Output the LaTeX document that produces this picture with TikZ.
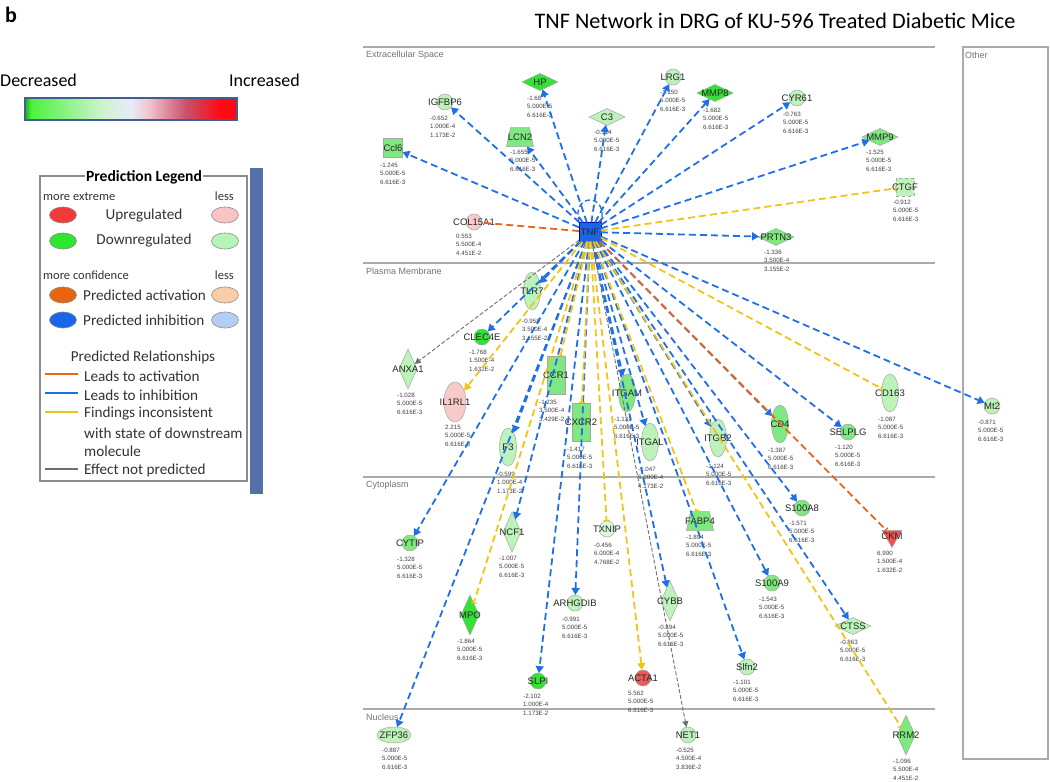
\documentclass[tikz,border=0pt]{standalone}
\usepackage{fontspec}
\setmainfont{Carlito}
\newfontfamily\netfont{Liberation Sans}
\usetikzlibrary{shapes.geometric,arrows.meta}
\definecolor{inhline}{HTML}{1F6FE8}
\definecolor{incline}{HTML}{F0C419}
\definecolor{actline}{HTML}{E8651A}
\definecolor{noline}{HTML}{6E6E6E}
\definecolor{lgreen}{HTML}{BDF2BA}
\definecolor{vlgreen}{HTML}{DDF8DD}
\definecolor{mgreen}{HTML}{80E880}
\definecolor{bgreen}{HTML}{36E036}
\definecolor{pinkish}{HTML}{F8CACA}
\definecolor{redish}{HTML}{EE5A5A}
\definecolor{rulegray}{HTML}{ABABAB}
\definecolor{barblue}{HTML}{3F5F8F}
\definecolor{legbar}{HTML}{5470A8}
\definecolor{upred}{HTML}{F23A3A}
\definecolor{uplight}{HTML}{F9C4C4}
\definecolor{dngreen}{HTML}{2EE62E}
\definecolor{dnlight}{HTML}{B6F4B6}
\definecolor{actor}{HTML}{E8650F}
\definecolor{actlight}{HTML}{F8CDA8}
\definecolor{inhblue}{HTML}{1A66E8}
\definecolor{inhlight}{HTML}{B4CDF4}
\definecolor{hg0}{HTML}{1FB01F}
\definecolor{hg1}{HTML}{4DF23D}
\definecolor{hg2}{HTML}{CDF3CD}
\definecolor{hg3}{HTML}{E6ECF8}
\definecolor{hg4}{HTML}{F2C6D0}
\definecolor{hg5}{HTML}{C8506A}
\definecolor{hg6}{HTML}{FF0A14}
% the box of a shaded path covers 25bp..75bp of the shading
\pgfdeclarehorizontalshading{heat}{100bp}{color(0bp)=(hg0); color(25bp)=(hg0); color(26.5bp)=(hg1); color(43bp)=(hg2); color(50bp)=(hg3); color(54bp)=(hg4); color(63bp)=(hg5); color(71bp)=(hg6); color(100bp)=(hg6)}
\tikzset{
  gene/.style={draw=black!35,line width=.5pt,inner sep=0pt,outer sep=0pt},
  rnd/.style={gene,circle,minimum size=16pt},
  vell/.style={gene,ellipse,minimum width=17pt,minimum height=38pt},
  hell/.style={gene,ellipse,minimum width=34pt,minimum height=16pt},
  hdia/.style={gene,diamond,minimum width=36pt,minimum height=17pt},
  vdia/.style={gene,diamond,minimum width=18pt,minimum height=40pt},
  vrect/.style={gene,rectangle,minimum width=18pt,minimum height=38pt},
  sq/.style={gene,rectangle,minimum size=19pt},
  trap/.style={gene,trapezium,trapezium left angle=78,trapezium right angle=78,minimum width=17pt,minimum height=19pt,inner sep=1pt},
  glbl/.style={font=\netfont\fontsize{9.5}{10}\selectfont,text=black!85,inner sep=0pt},
  vals/.style={font=\netfont\fontsize{6.2}{8.4}\selectfont,align=left,anchor=north west,inner sep=0pt,text=black!75},
  inh/.style={inhline,line width=1.8pt,dash pattern=on 7pt off 4pt,-{Triangle[width=8pt,length=7pt]}},
  incbar/.style={incline,line width=1.8pt,dash pattern=on 7pt off 4pt,-{Bar[width=6pt,line width=1.2pt]}},
  incarr/.style={incline,line width=1.8pt,dash pattern=on 7pt off 4pt,-{Triangle[width=8pt,length=7pt]}},
  actl/.style={actline,line width=1.8pt,dash pattern=on 7pt off 4pt},
  actbar/.style={actl,-{Bar[width=6pt,line width=1.2pt]}},
  noeff/.style={noline,line width=.9pt,dash pattern=on 4pt off 2pt,-{Triangle[width=6pt,length=6pt]}},
  secrule/.style={rulegray,line width=2pt},
  seclbl/.style={font=\netfont\fontsize{9}{10}\selectfont,text=black!55,anchor=west,inner sep=0pt},
  legtxt/.style={font=\fontsize{15.2}{16}\selectfont,text=black!80,inner sep=0pt},
  legsmall/.style={font=\fontsize{12.5}{13}\selectfont,text=black!80,inner sep=0pt},
  legdot/.style={ellipse,draw=black!45,line width=.6pt,minimum width=27pt,minimum height=16pt},
}
\begin{document}
\begin{tikzpicture}[x=1pt,y=-1pt]
\useasboundingbox (0,0) rectangle (1050,782);
% header
\node[font=\bfseries\fontsize{22}{24}\selectfont,anchor=base west,inner sep=0pt] (panel) at (5,22) {b};
\node[font=\fontsize{22.2}{24}\selectfont,anchor=base,inner sep=0pt] (title) at (775,28) {TNF Network in DRG of KU-596 Treated Diabetic Mice};
% colour scale
\node[font=\fontsize{18}{20}\selectfont,anchor=base west,inner sep=0pt] (dec) at (0,86) {Decreased};
\node[font=\fontsize{18}{20}\selectfont,anchor=base east,inner sep=0pt] (inc) at (300,86) {Increased};
\node[shade,shading=heat,draw=barblue,line width=2pt,minimum width=212pt,minimum height=22pt,inner sep=0pt] (heatbar) at (131,109) {};
% prediction legend
\draw[black!45,line width=1.2pt] (40,176) rectangle (247,481);
\fill[legbar] (250,168) rectangle (263,494);
\node[fill=white,font=\bfseries\fontsize{15.6}{16}\selectfont,inner sep=1.5pt] (legtitle) at (144,177) {Prediction Legend};
\node[legsmall,anchor=base west] (extr) at (43,200) {more extreme};
\node[legsmall,anchor=base east] (extrl) at (234,200) {less};
\node[legsmall,anchor=base west] (conf) at (43,279) {more confidence};
\node[legsmall,anchor=base east] (confl) at (234,279) {less};
\foreach \n/\y/\f/\g in {up/215/upred/uplight,dn/241/dngreen/dnlight,ac/295/actor/actlight,ih/320/inhblue/inhlight}{
  \node[legdot,fill=\f] (\n a) at (63,\y) {};
  \node[legdot,fill=\g] (\n b) at (225,\y) {};
}
\node[legtxt] (uptxt) at (144,216) {Upregulated};
\node[legtxt] (dntxt) at (144,241) {Downregulated};
\node[legtxt,anchor=west] (actxt) at (83,295) {Predicted activation};
\node[legtxt,anchor=west] (ihtxt) at (83,320) {Predicted inhibition};
\node[legtxt] (reltxt) at (143,357) {Predicted Relationships};
\foreach \y/\c in {374/actline,393/inhline,412/incline,469/noline}
  \draw[\c,line width=2.2pt] (45,\y) -- (78,\y);
\foreach \y/\t in {376/Leads to activation,395/Leads to inhibition,414/Findings inconsistent,433/with state of downstream,451/molecule,470/Effect not predicted}
  \node[legtxt,anchor=west] (rel\y) at (84,\y) {\t};
% compartments
\foreach \y/\t in {47/Extracellular Space,263/Plasma Membrane,477/Cytoplasm,709/Nucleus}{
  \draw[secrule] (363,\y) -- (935,\y);
  \node[seclbl] (sec\y) at (366,\y+8) {\t};
}
\draw[rulegray,line width=1.5pt] (963,47) rectangle (1048,759);
\node[seclbl] (other) at (965,55) {Other};
% molecules
\node[gene,rectangle,fill=inhblue,draw=blue!60!black,minimum width=22pt,minimum height=19pt,label={[glbl]center:TNF}] (tnf) at (590,232) {};
\foreach \n/\x/\y/\f/\t in {igfbp6/445/102/lgreen/IGFBP6,lrg1/673/77/lgreen/LRG1,cyr61/797/98/lgreen/CYR61,
  col15a1/474/222/pinkish/COL15A1,clec4e/482/337/bgreen/CLEC4E,selplg/848/432/mgreen/SELPLG,mt2/992/406/lgreen/Mt2,
  cytip/410/543/mgreen/CYTIP,txnip/607/529/vlgreen/TXNIP,s100a8/802/508/mgreen/S100A8,arhgdib/575/603/lgreen/ARHGDIB,
  s100a9/772/583/mgreen/S100A9,slpi/538/681/bgreen/SLPI,acta1/643/678/redish/ACTA1,slfn2/747/667/lgreen/Slfn2,net1/688/735/lgreen/NET1}
  \node[rnd,fill=\f,label={[glbl]center:\t}] (\n) at (\x,\y) {};
\foreach \n/\x/\y/\f/\t in {tlr7/532/291/lgreen/TLR7,f3/508/447/lgreen/F3,itgam/627/393/mgreen/ITGAM,
  itgal/650/442/lgreen/ITGAL,itgb2/718/438/lgreen/ITGB2,cd4/780/424/mgreen/CD4,cd163/890/393/lgreen/CD163}
  \node[vell,fill=\f,label={[glbl]center:\t}] (\n) at (\x,\y) {};
\node[vell,fill=pinkish,minimum width=22pt,minimum height=40pt,label={[glbl]center:IL1RL1}] (il1rl1) at (455,402) {};
\node[hell,fill=lgreen,label={[glbl]center:ZFP36}] (zfp36) at (394,735) {};
\foreach \n/\x/\y/\f/\t in {hp/540/82/bgreen/HP,c3/607/117/lgreen/C3,mmp8/715/93/bgreen/MMP8,
  mmp9/880/137/mgreen/MMP9,prtn3/776/237/mgreen/PRTN3,ctss/853/626/lgreen/CTSS}
  \node[hdia,fill=\f,label={[glbl]center:\t}] (\n) at (\x,\y) {};
\foreach \n/\x/\y/\f/\t in {anxa1/408/369/lgreen/ANXA1,ncf1/512/532/lgreen/NCF1,mpo/470/615/bgreen/MPO,
  cybb/670/601/lgreen/CYBB,rrm2/906/735/mgreen/RRM2}
  \node[vdia,fill=\f,label={[glbl]center:\t}] (\n) at (\x,\y) {};
\foreach \n/\x/\y/\t in {ccr1/556/375/CCR1,cxcr2/581/422/CXCR2}
  \node[vrect,fill=mgreen,label={[glbl]center:\t}] (\n) at (\x,\y) {};
\node[sq,fill=mgreen,label={[glbl]center:Ccl6}] (ccl6) at (393,148) {};
\node[sq,fill=lgreen,dashed,minimum size=18pt,label={[glbl]center:CTGF}] (ctgf) at (905,187) {};
\foreach \n/\x/\y/\t in {lcn2/520/137/LCN2,fabp4/700/521/FABP4}
  \node[trap,fill=mgreen,label={[glbl]center:\t}] (\n) at (\x,\y) {};
\node[gene,regular polygon,regular polygon sides=3,shape border rotate=180,minimum size=23pt,fill=redish!90!red,label={[glbl]center:CKM}] (ckm) at (892,536) {};
% values: fold change / p-value / FDR
\foreach \n/\x/\y/\a/\b/\c in {igfbp6/430/116/-0.652/1.000E-4/1.173E-2,hp/527/96/-1.68/5.000E-5/6.616E-3,
  lcn2/510/150/-1.655/5.000E-5/6.616E-3,ccl6/380/163/-1.245/5.000E-5/6.616E-3,c3/594/130/-0.514/5.000E-5/6.616E-3,
  lrg1/660/90/-1.150/5.000E-5/6.616E-3,mmp8/703/108/-1.682/5.000E-5/6.616E-3,cyr61/783/112/-0.763/5.000E-5/6.616E-3,
  mmp9/866/150/-1.525/5.000E-5/6.616E-3,ctgf/893/200/-0.912/5.000E-5/6.616E-3,col15a1/456/234/0.553/5.500E-4/4.451E-2,
  prtn3/764/250/-1.336/3.500E-4/3.155E-2,tlr7/522/319/-0.958/3.500E-4/3.155E-2,clec4e/469/350/-1.768/1.500E-4/1.632E-2,
  anxa1/397/393/-1.028/5.000E-5/6.616E-3,il1rl1/445/425/2.215/5.000E-5/6.616E-3,ccr1/539/400/-1.235/3.500E-4/3.429E-2,
  cxcr2/567/447/-1.417/5.000E-5/6.616E-3,f3/497/472/-0.599/1.000E-4/1.173E-2,itgam/614/417/-1.132/5.000E-5/6.616E-3,
  itgal/638/467/-1.047/5.000E-4/4.173E-2,itgb2/706/464/-1.124/5.000E-5/6.616E-3,cd4/768/448/-1.387/5.000E-5/6.616E-3,
  selplg/835/445/-1.120/5.000E-5/6.616E-3,cd163/878/417/-1.087/5.000E-5/6.616E-3,mt2/978/420/-0.871/5.000E-5/6.616E-3,
  cytip/397/557/-1.328/5.000E-5/6.616E-3,ncf1/499/556/-1.007/5.000E-5/6.616E-3,txnip/594/543/-0.456/6.000E-4/4.768E-2,
  fabp4/686/535/-1.894/5.000E-5/6.616E-3,s100a8/789/521/-1.571/5.000E-5/6.616E-3,ckm/877/551/6.990/1.500E-4/1.632E-2,
  mpo/457/639/-1.864/5.000E-5/6.616E-3,arhgdib/562/617/-0.991/5.000E-5/6.616E-3,cybb/658/625/-0.894/5.000E-5/6.616E-3,
  s100a9/759/597/-1.543/5.000E-5/6.616E-3,ctss/840/640/-0.863/5.000E-5/6.616E-3,slpi/523/694/-2.102/1.000E-4/1.173E-2,
  acta1/628/691/5.562/5.000E-5/6.616E-3,slfn2/733/680/-1.101/5.000E-5/6.616E-3,zfp36/382/748/-0.887/5.000E-5/6.616E-3,
  net1/676/748/-0.525/4.500E-4/3.836E-2,rrm2/893/759/-1.096/5.500E-4/4.451E-2}
  \node[vals] (v\n) at (\x,\y) {\a\\\b\\\c};
% relationships from TNF
\foreach \t in {ccl6,igfbp6,lcn2,hp,c3,lrg1,mmp8,cyr61,mmp9,prtn3,tlr7,clec4e,f3,itgam,itgal,itgb2,cd4,selplg,mt2,
  cytip,ncf1,arhgdib,slpi,cybb,s100a8,s100a9,slfn2,ctss,zfp36}
  \draw[inh] (tnf) -- (\t);
\foreach \t in {ctgf,ccr1,cxcr2,mpo,txnip,fabp4,cd163,rrm2}
  \draw[incbar] (tnf) -- (\t);
\foreach \t in {il1rl1,acta1}
  \draw[incarr] (tnf) -- (\t);
\draw[actl] (tnf) -- (col15a1);
\draw[actbar] (tnf) -- (ckm);
\foreach \t in {anxa1,net1}
  \draw[noeff] (tnf) -- (\t);
\draw[inhline,line width=1.4pt,dash pattern=on 5pt off 3pt] (tnf.north west) .. controls +(-8,-30) and +(8,-30) .. (tnf.north east);
\end{tikzpicture}
\end{document}
